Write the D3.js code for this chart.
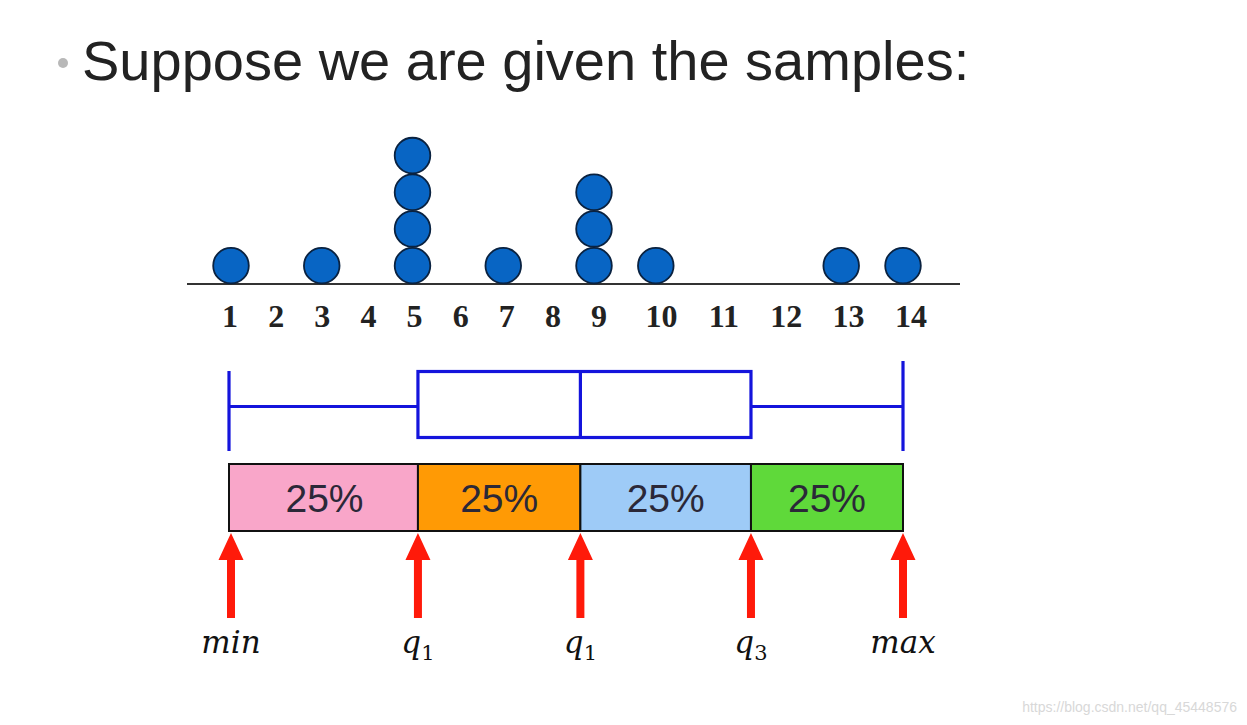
<!DOCTYPE html>
<html>
<head>
<meta charset="utf-8">
<script src="https://cdn.jsdelivr.net/npm/d3@7"></script>
<style>
  html, body { margin: 0; padding: 0; background: #ffffff; }
  svg { display: block; }
</style>
</head>
<body>
<svg id="chart" width="1247" height="725"></svg>
<script>
// ---- data ----
const titleText = "Suppose we are given the samples:";
const samples = [1, 3, 5, 5, 5, 5, 7, 9, 9, 9, 10, 13, 14];
const tickValues = [1, 2, 3, 4, 5, 6, 7, 8, 9, 10, 11, 12, 13, 14];
const statNames = ["min", "q1", "median", "q3", "max"];
const statValues = [1, 5.12, 8.7, 11.54, 14];
const quarterLabels = ["25%", "25%", "25%", "25%"];
const quarterColors = ["#f9a6c9", "#ff9a05", "#9ecbf7", "#5fd93a"];
const arrowBase = ["min", "q", "q", "q", "max"];
const arrowSub = ["", "1", "1", "3", ""];
const watermark = "https://blog.csdn.net/qq_45448576";

// ---- scales ----
const svg = d3.select("#chart");
const x = d3.scaleLinear().domain([1, 9, 14]).range([231, 594, 903]);
const xLabel = d3.scaleLinear().domain([1, 9, 14]).range([230, 599, 911]);
const axisY = 284;
const yStack = d3.scaleLinear().domain([0, 1]).range([axisY, axisY - 36.7]);

// ---- title ----
svg.append("circle").attr("cx", 63).attr("cy", 63).attr("r", 5).attr("fill", "#b8b8b8");
svg.append("text").attr("x", 82).attr("y", 80)
  .attr("font-family", "'Liberation Sans', Arial, sans-serif")
  .attr("font-size", 56).attr("fill", "#222222")
  .text(titleText);

// ---- dot plot ----
svg.append("line").attr("x1", 187).attr("x2", 960).attr("y1", axisY).attr("y2", axisY)
  .attr("stroke", "#333").attr("stroke-width", 2);

const counts = {};
const dots = samples.map(v => { counts[v] = (counts[v] || 0); const i = counts[v]++; return { v, i }; });
svg.append("g").selectAll("circle").data(dots).join("circle")
  .attr("cx", d => x(d.v))
  .attr("cy", d => yStack(d.i + 0.5))
  .attr("r", 17.8)
  .attr("fill", "#0865c4")
  .attr("stroke", "#0a2240").attr("stroke-width", 1.8);

svg.append("g").selectAll("text").data(tickValues).join("text")
  .attr("x", d => xLabel(d))
  .attr("y", 327)
  .attr("text-anchor", "middle")
  .attr("font-family", "'Liberation Serif', 'Times New Roman', serif")
  .attr("font-weight", "bold")
  .attr("font-size", 32)
  .attr("fill", "#222")
  .text(d => d);

// ---- box plot ----
const [vMin, vQ1, vMed, vQ3, vMax] = statValues;
const blue = "#1414dc";
const bp = svg.append("g").attr("stroke", blue).attr("stroke-width", 3.2).attr("fill", "none");
const boxTop = 371.5, boxBot = 437.5, midY = 406.5;
bp.append("line").attr("x1", x(vMin) - 2).attr("x2", x(vMin) - 2).attr("y1", 371).attr("y2", 451);
bp.append("line").attr("x1", x(vMin) - 2).attr("x2", x(vQ1)).attr("y1", midY).attr("y2", midY);
bp.append("rect").attr("x", x(vQ1)).attr("y", boxTop).attr("width", x(vQ3) - x(vQ1)).attr("height", boxBot - boxTop);
bp.append("line").attr("x1", x(vMed)).attr("x2", x(vMed)).attr("y1", boxTop).attr("y2", boxBot);
bp.append("line").attr("x1", x(vQ3)).attr("x2", x(vMax)).attr("y1", midY).attr("y2", midY);
bp.append("line").attr("x1", x(vMax)).attr("x2", x(vMax)).attr("y1", 361).attr("y2", 451);

// ---- quarter bar ----
const quarters = quarterLabels.map((l, i) => ({ l, c: quarterColors[i], a: statValues[i], b: statValues[i + 1] }));
const qb = svg.append("g");
qb.selectAll("rect").data(quarters).join("rect")
  .attr("x", d => x(d.a) - (d.a === vMin ? 2 : 0))
  .attr("y", 464)
  .attr("width", d => x(d.b) - x(d.a) + (d.a === vMin ? 2 : 0))
  .attr("height", 67)
  .attr("fill", d => d.c)
  .attr("stroke", "#111").attr("stroke-width", 2);
qb.selectAll("text").data(quarters).join("text")
  .attr("x", d => (x(d.a) + x(d.b)) / 2)
  .attr("y", 512)
  .attr("text-anchor", "middle")
  .attr("font-family", "'Liberation Sans', Arial, sans-serif")
  .attr("font-size", 39)
  .attr("fill", "#2b2838")
  .text(d => d.l);

// ---- arrows ----
const red = "#ff1a0a";
const ag = svg.append("g");
const arrows = statValues.map((v, i) => ({ v, base: arrowBase[i], sub: arrowSub[i] }));
ag.selectAll("path").data(arrows).join("path")
  .attr("transform", d => `translate(${x(d.v)},0)`)
  .attr("d", "M0,533 L12.5,560 L4,560 L4,618 L-4,618 L-4,560 L-12.5,560 Z")
  .attr("fill", red);

const lbl = ag.selectAll("text").data(arrows).join("text")
  .attr("x", d => x(d.v))
  .attr("y", 653)
  .attr("text-anchor", "middle")
  .attr("font-family", "'DejaVu Serif', serif")
  .attr("font-style", "italic")
  .attr("font-size", 31)
  .attr("fill", "#111");
lbl.append("tspan").text(d => d.base);
lbl.append("tspan").attr("dy", 7).attr("font-size", 21).attr("font-style", "normal").text(d => d.sub);

// ---- watermark ----
svg.append("text").attr("x", 1237).attr("y", 712).attr("text-anchor", "end")
  .attr("font-family", "'Liberation Sans', Arial, sans-serif")
  .attr("font-size", 14).attr("fill", "#d8d8d8")
  .text(watermark);
</script>
</body>
</html>
